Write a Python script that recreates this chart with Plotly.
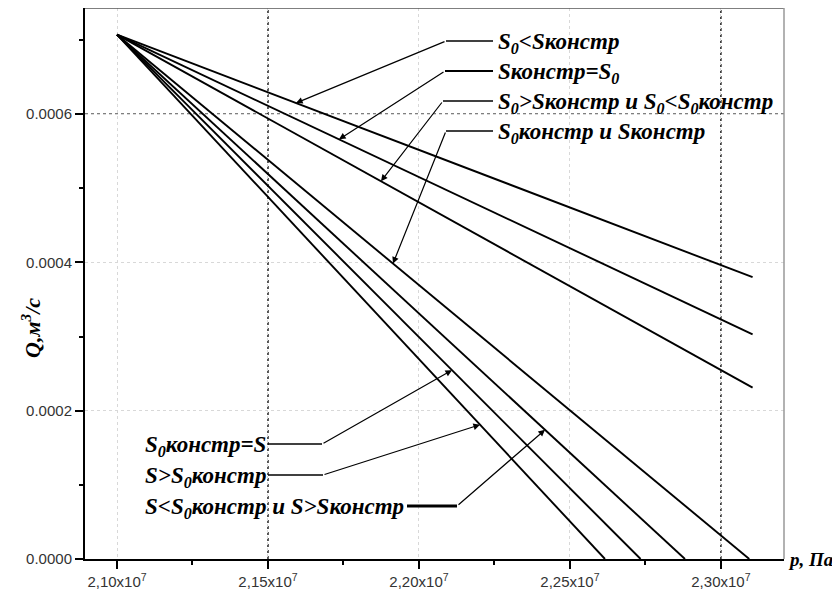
import numpy as np
import plotly.graph_objects as go

# ---------------- data ----------------
p_start = 2.10e7
q_start = 0.000707
series_names = ["S0<Sконстр", "Sконстр=S0", "S0>Sконстр и S0<S0констр",
                "S0констр и Sконстр", "S>S0констр", "S0констр=S",
                "S<S0констр и S>Sконстр"]
p_end = [2.3105e7, 2.3105e7, 2.3105e7, 2.3094e7, 2.2616e7, 2.2734e7, 2.2881e7]
q_end = [0.000380, 0.000303, 0.000231, 0.0, 0.0, 0.0, 0.0]

x_tickvals = [2.10e7, 2.15e7, 2.20e7, 2.25e7, 2.30e7]
x_ticktext = ["2,10x10<sup>7</sup>", "2,15x10<sup>7</sup>", "2,20x10<sup>7</sup>",
              "2,25x10<sup>7</sup>", "2,30x10<sup>7</sup>"]
y_tickvals = [0.0, 0.0002, 0.0004, 0.0006]
y_ticktext = ["0.0000", "0.0002", "0.0004", "0.0006"]

label_texts = [
    "S<sub>0</sub>&lt;Sконстр",
    "Sконстр=S<sub>0</sub>",
    "S<sub>0</sub>&gt;Sконстр и S<sub>0</sub>&lt;S<sub>0</sub>констр",
    "S<sub>0</sub>констр и Sконстр",
    "S&gt;S<sub>0</sub>констр",
    "S<sub>0</sub>констр=S",
    "S&lt;S<sub>0</sub>констр и S&gt;Sконстр",
]

# ---------------- layout geometry ----------------
OFF = 8  # page body margin
W, H = 832, 591
ML, MR, MT, MB = 77, 56, 0, 40
XR = [2.0894e7, 2.3209e7]
YR = [0.0, 0.000743]
PW, PH = W - ML - MR, H - MT - MB


def px2x(px):  # window pixel -> data
    return XR[0] + (px - OFF - ML) / PW * (XR[1] - XR[0])


def px2y(py):
    return YR[0] + (H - MB - (py - OFF)) / PH * (YR[1] - YR[0])


fig = go.Figure()
for i, name in enumerate(series_names):
    fig.add_trace(go.Scatter(
        x=[p_start, p_end[i]], y=[q_start, q_end[i]], mode="lines",
        line=dict(color="black", width=1.9), name=name, showlegend=False))

# callouts: (series index, tip px-x, elbow px, horizontal end px-x, text left px-x, line width)
callouts = [
    (0, 296, (446, 41), 493, 496, 1.3),
    (1, 339, (445, 71), 493, 496, 2.2),
    (2, 381, (443, 101), 493, 496, 1.3),
    (3, 393, (446, 131), 493, 496, 1.3),
    (4, 480, (323, 475), 268, 143, 1.3),
    (5, 452, (322, 444), 268, 143, 1.3),
    (6, 545, (457, 506), 407, 143, 3.0),
]
label_font = dict(family="Liberation Serif", size=23, color="black")
for (si, tipx, (ex, ey), hx, tx, lw), txt in zip(callouts, label_texts):
    tp = px2x(tipx)
    tq = float(np.interp(tp, [p_start, p_end[si]], [q_start, q_end[si]]))
    fig.add_annotation(x=tp, y=tq, ax=px2x(ex), ay=px2y(ey), axref="x", ayref="y",
                       xref="x", yref="y", text="", showarrow=True,
                       arrowhead=2, arrowsize=1.1, arrowwidth=1.2, arrowcolor="black")
    fig.add_shape(type="line", x0=px2x(ex), y0=px2y(ey), x1=px2x(hx), y1=px2y(ey),
                  xref="x", yref="y", line=dict(color="black", width=lw))
    fig.add_annotation(x=px2x(tx), y=px2y(ey + 2), xref="x", yref="y", xanchor="left",
                       yanchor="middle", text="<b><i>" + txt + "</i></b>",
                       showarrow=False, font=label_font)

# dark dotted reference lines
for xv in [2.15e7, 2.30e7]:
    fig.add_shape(type="line", x0=xv, x1=xv, y0=0, y1=1, xref="x", yref="paper",
                  line=dict(color="black", width=1.3, dash="dot"), layer="below")
fig.add_shape(type="line", x0=0, x1=1, y0=0.0006, y1=0.0006, xref="paper", yref="y",
              line=dict(color="black", width=1.3, dash="dot"), layer="below")

# top/right frame in gray
fig.add_shape(type="line", x0=0, x1=1, y0=1, y1=1, xref="paper", yref="paper",
              line=dict(color="#555555", width=1.5))
fig.add_shape(type="line", x0=1, x1=1, y0=0, y1=1, xref="paper", yref="paper",
              line=dict(color="#999999", width=1.5))

# axis titles
fig.add_annotation(x=1, y=0, xref="paper", yref="paper", xanchor="left", yanchor="middle",
                   xshift=2, text="<b><i>p, Па</i></b>", showarrow=False,
                   font=dict(family="Liberation Serif", size=19, color="black"))
fig.add_annotation(x=0, y=px2y(328), xref="paper", yref="y", xanchor="center",
                   yanchor="middle", xshift=-54, textangle=-90,
                   text="<b><i>Q,м<sup>3</sup>/с</i></b>", showarrow=False,
                   font=dict(family="Liberation Serif", size=22, color="black"))

tickfont = dict(family="Liberation Sans", size=15, color="#333333")
fig.update_xaxes(range=XR, tickmode="array", tickvals=x_tickvals, ticktext=x_ticktext,
                 ticks="outside", ticklen=8, tickwidth=1.5, tickcolor="black",
                 showline=True, linecolor="black", linewidth=2,
                 showgrid=True, gridcolor="#d8d8d8", griddash="dot", gridwidth=1,
                 zeroline=False, tickfont=tickfont,
                 minor=dict(tickmode="linear", tick0=2.125e7, dtick=5e5, ticks="outside",
                            ticklen=4, tickwidth=1.5, tickcolor="black", showgrid=False))
fig.update_yaxes(range=YR, tickmode="array", tickvals=y_tickvals, ticktext=y_ticktext,
                 ticks="outside", ticklen=8, tickwidth=1.5, tickcolor="black",
                 showline=True, linecolor="black", linewidth=2,
                 showgrid=True, gridcolor="#d8d8d8", griddash="dot", gridwidth=1,
                 zeroline=False, tickfont=tickfont,
                 minor=dict(tickmode="linear", tick0=0.0001, dtick=0.0002, ticks="outside",
                            ticklen=4, tickwidth=1.5, tickcolor="black", showgrid=False))
fig.update_layout(width=W, height=H, margin=dict(l=ML, r=MR, t=MT, b=MB),
                  plot_bgcolor="white", paper_bgcolor="white", showlegend=False)
fig.write_html("out.html")
